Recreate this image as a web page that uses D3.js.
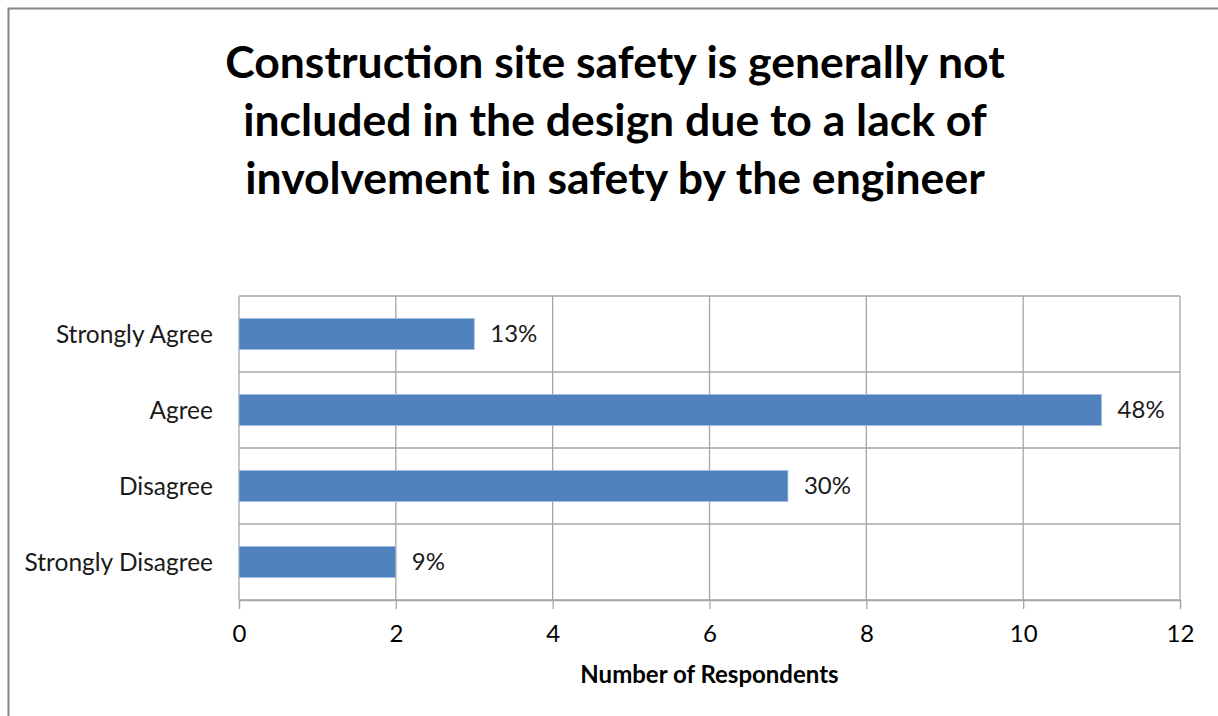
<!DOCTYPE html>
<html>
<head>
<meta charset="utf-8">
<script src="https://cdn.jsdelivr.net/npm/d3@7"></script>
<style>
  body { margin: 0; background: #fff; }
  text { font-family: Lato, "Open Sans", sans-serif; fill: #000; }
</style>
</head>
<body>
<svg id="chart" width="1218" height="716"></svg>
<script>
// categories top to bottom
var categories = ["Strongly Agree", "Agree", "Disagree", "Strongly Disagree"];
var respondents = [3, 11, 7, 2];
var percentLabels = ["13%", "48%", "30%", "9%"];
var xTicks = [0, 2, 4, 6, 8, 10, 12];
var titleLines = [
  "Construction site safety is generally not",
  "included in the design due to a lack of",
  "involvement in safety by the engineer"
];
var xAxisTitle = "Number of Respondents";

var svg = d3.select("#chart"),
    margin = {top: 296, right: 38, bottom: 116, left: 239},
    width = +svg.attr("width") - margin.left - margin.right,
    height = +svg.attr("height") - margin.top - margin.bottom;

// outer chart border (only top/left visible in the picture)
svg.append("rect")
    .attr("x", 8.5).attr("y", 8.5)
    .attr("width", 1240).attr("height", 740)
    .attr("fill", "none")
    .attr("stroke", "#868686")
    .attr("stroke-width", 2);

// title
svg.append("g").selectAll("text")
    .data(titleLines)
  .enter().append("text")
    .attr("x", 615)
    .attr("y", function(d, i) { return 78 + i * 58; })
    .attr("text-anchor", "middle")
    .style("font-size", "44.5px")
    .style("font-weight", "bold")
    .text(function(d) { return d; });

var g = svg.append("g").attr("transform", "translate(" + margin.left + "," + margin.top + ")");

var x = d3.scaleLinear()
    .domain([0, 12])
    .range([0, width]);

var y = d3.scaleBand()
    .domain(categories)
    .range([0, height])
    .paddingInner(0.59)
    .paddingOuter(0.295);

var yLines = d3.scaleBand().domain(categories).range([0, height]);

// vertical grid lines
g.append("g").selectAll("line")
    .data(xTicks)
  .enter().append("line")
    .attr("x1", function(d) { return x(d); })
    .attr("x2", function(d) { return x(d); })
    .attr("y1", 0).attr("y2", height)
    .attr("stroke", "#a6a6a6")
    .attr("stroke-width", 1.3);

// horizontal category separators
g.append("g").selectAll("line")
    .data(categories.concat(["end"]))
  .enter().append("line")
    .attr("x1", 0).attr("x2", width)
    .attr("y1", function(d, i) { return i < categories.length ? yLines(d) : height; })
    .attr("y2", function(d, i) { return i < categories.length ? yLines(d) : height; })
    .attr("stroke", "#a6a6a6")
    .attr("stroke-width", 1.3);

// bars
g.append("g").selectAll("rect")
    .data(respondents)
  .enter().append("rect")
    .attr("x", 0)
    .attr("y", function(d, i) { return y(categories[i]); })
    .attr("width", function(d) { return x(d); })
    .attr("height", y.bandwidth())
    .attr("fill", "#4f81bd")
    .attr("stroke", "#a7c0de")
    .attr("stroke-width", 0.8);

// value labels
g.append("g").selectAll("text")
    .data(respondents)
  .enter().append("text")
    .attr("x", function(d) { return x(d) + 16; })
    .attr("y", function(d, i) { return y(categories[i]) + y.bandwidth() / 2; })
    .attr("dy", "0.35em")
    .style("font-size", "24px")
    .style("fill", "#1a1a1a")
    .text(function(d, i) { return percentLabels[i]; });

// category labels
g.append("g").selectAll("text")
    .data(categories)
  .enter().append("text")
    .attr("x", -26)
    .attr("y", function(d) { return y(d) + y.bandwidth() / 2; })
    .attr("dy", "0.35em")
    .attr("text-anchor", "end")
    .style("font-size", "24.5px")
    .style("fill", "#1a1a1a")
    .text(function(d) { return d; });

// x axis
var xAxis = g.append("g")
    .attr("transform", "translate(0," + height + ")")
    .call(d3.axisBottom(x).tickValues(xTicks).tickSize(9).tickPadding(16));
xAxis.select(".domain").attr("stroke", "#a6a6a6").attr("stroke-width", 1.3);
xAxis.selectAll(".tick line").attr("stroke", "#a6a6a6").attr("stroke-width", 1.3);
xAxis.selectAll(".tick text")
    .style("font-family", "Lato, sans-serif")
    .style("font-size", "24px")
    .attr("fill", "#1a1a1a");

// axis title
g.append("text")
    .attr("x", width / 2)
    .attr("y", height + 83)
    .attr("text-anchor", "middle")
    .style("font-size", "24px")
    .style("font-weight", "bold")
    .text(xAxisTitle);
</script>
</body>
</html>
